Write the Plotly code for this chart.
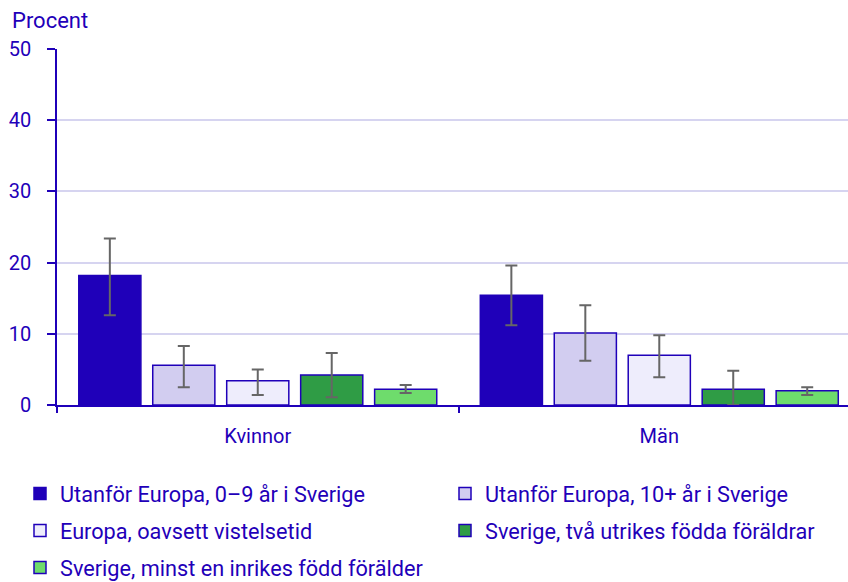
import plotly.graph_objects as go

categories = ["Kvinnor", "Män"]
series_names = [
    "Utanför Europa, 0–9 år i Sverige",
    "Utanför Europa, 10+ år i Sverige",
    "Europa, oavsett vistelsetid",
    "Sverige, två utrikes födda föräldrar",
    "Sverige, minst en inrikes född förälder",
]
values = [
    [18.2, 15.4],
    [5.6, 10.1],
    [3.4, 7.0],
    [4.2, 2.2],
    [2.2, 2.0],
]
err_upper = [
    [23.4, 19.6],
    [8.3, 14.0],
    [5.0, 9.8],
    [7.3, 4.8],
    [2.8, 2.5],
]
err_lower = [
    [12.6, 11.2],
    [2.5, 6.2],
    [1.4, 3.9],
    [1.1, 0.0],
    [1.7, 1.4],
]
y_ticks = [0, 10, 20, 30, 40, 50]

colors = ["#1f00b9", "#d2cdf0", "#eeedfc", "#2f9c45", "#6edc6c"]
DARK = "#1f00b9"
legend_ids = ["legend", "legend2", "legend3", "legend4", "legend5"]
# legend entry anchor positions in pixels (x, y)
legend_pos = [(20, 494), (445, 494), (20, 531), (445, 531), (20, 568)]

fig = go.Figure()
for i, name in enumerate(series_names):
    plus = [u - v for u, v in zip(err_upper[i], values[i])]
    minus = [v - l for v, l in zip(values[i], err_lower[i])]
    fig.add_trace(go.Bar(
        x=categories, y=values[i], name=name,
        marker=dict(color=colors[i], line=dict(color=DARK, width=1.5)),
        error_y=dict(type="data", array=plus, arrayminus=minus, symmetric=False,
                     color="#666666", thickness=2, width=6),
        legend=legend_ids[i],
    ))

leg_common = dict(orientation="h", xanchor="left", yanchor="middle",
                  xref="container", yref="container",
                  font=dict(family="Roboto", size=21.7, color=DARK),
                  bgcolor="rgba(0,0,0,0)")
legend_layout = {}
for lid, (px, py) in zip(legend_ids, legend_pos):
    legend_layout[lid] = dict(x=px / 848, y=max(0, 1 - py / 582), **leg_common)

fig.update_layout(
    width=848, height=582,
    margin=dict(l=57, r=0, t=49, b=177, autoexpand=False),
    paper_bgcolor="white", plot_bgcolor="white",
    font=dict(family="Roboto", size=20, color=DARK),
    barmode="group", bargap=0.079, bargroupgap=0.16,
    title=dict(text="Procent", x=12 / 848, xref="container", xanchor="left",
               y=1 - 20 / 582, yref="container", yanchor="middle",
               font=dict(family="Roboto", size=22, color=DARK)),
    showlegend=True,
    **legend_layout,
)
fig.update_xaxes(
    range=[-0.5, 1.47], showline=True, linecolor=DARK, linewidth=1.5,
    ticks="outside", tickson="boundaries", ticklen=6, tickcolor=DARK, tickwidth=1.5,
    tickfont=dict(family="Roboto", size=20, color=DARK), ticklabelstandoff=12,
    showgrid=False,
)
fig.update_yaxes(
    range=[0, 50], tickvals=y_ticks, showline=True, linecolor=DARK, linewidth=1.5,
    ticks="outside", ticklen=8, tickcolor=DARK, tickwidth=1.5,
    tickfont=dict(family="Roboto", size=20, color=DARK), ticklabelstandoff=12,
    showgrid=True, gridcolor="#d6d4f0", gridwidth=1.5, zeroline=False,
)
fig.write_html("out.html", config={"displayModeBar": False},
               post_script="document.body.style.margin='0';document.body.style.overflow='hidden';")
